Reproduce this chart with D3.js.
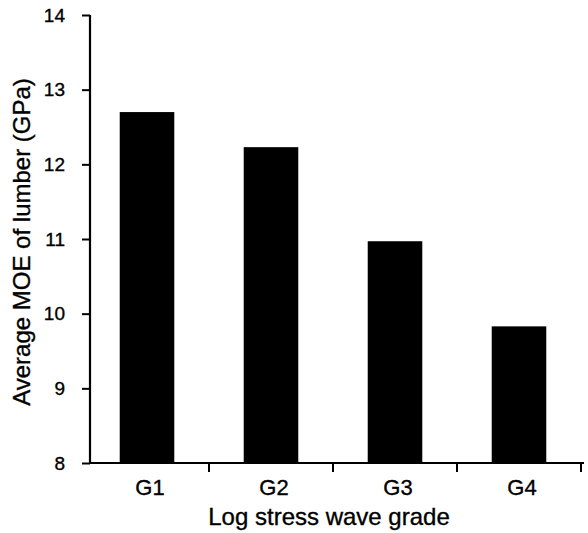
<!DOCTYPE html>
<html>
  <head>
    <title>Average MOE of lumber by log grade</title>
    <script src="https://cdn.jsdelivr.net/npm/d3@7"></script>
    <style>
      body { margin: 0; background: #fff; }
      text { font-family: "Liberation Sans", Arial, sans-serif; fill: #000; stroke: #000; stroke-width: 0.35px; }
    </style>
  </head>
  <body>
    <svg width="588" height="533" id="mainsvg"></svg>
    <script>
        // data
        const grades = ['G1', 'G2', 'G3', 'G4'];
        const moe = [12.70, 12.23, 10.97, 9.83];
        const yTicks = [8, 9, 10, 11, 12, 13, 14];

        const svg = d3.select('#mainsvg');
        const margin = {top: 15, right: 4, bottom: 70, left: 90};
        const width = +svg.attr('width');
        const height = +svg.attr('height');
        const innerWidth = width - margin.left - margin.right;
        const innerHeight = height - margin.top - margin.bottom;

        const g = svg.append('g')
            .attr('transform', `translate(${margin.left}, ${margin.top})`);

        const x = d3.scaleBand()
            .domain(grades)
            .range([-5, innerWidth - 3])
            .paddingInner(0.56)
            .paddingOuter(0.28);

        const y = d3.scaleLinear()
            .domain([8, 14])
            .range([innerHeight, 0]);

        // bars
        g.selectAll('.bar')
            .data(moe)
            .enter().append('rect')
            .attr('class', 'bar')
            .attr('x', (d, i) => x(grades[i]))
            .attr('y', d => y(d))
            .attr('width', x.bandwidth())
            .attr('height', d => y(8) - y(d))
            .attr('fill', '#000');

        // y axis
        const yAxis = g.append('g')
            .call(d3.axisLeft(y).tickValues(yTicks).tickFormat(d3.format('d')).tickSize(8).tickPadding(17));
        yAxis.select('.domain').attr('stroke-width', 2.2).attr('d', `M0,0V${innerHeight}`);
        yAxis.selectAll('.tick line').attr('stroke-width', 2);
        yAxis.selectAll('.tick text').style('font-size', '19px');

        // x axis: ticks sit between categories
        const bounds = grades.map(d => x(d) + x.bandwidth() + x.step() * x.paddingInner() / 2);
        const xg = g.append('g').attr('transform', `translate(0, ${innerHeight})`);
        xg.append('line')
            .attr('x1', 0).attr('x2', innerWidth)
            .attr('stroke', '#000').attr('stroke-width', 2.2);
        xg.selectAll('.xtick')
            .data(bounds)
            .enter().append('line')
            .attr('class', 'xtick')
            .attr('x1', d => d).attr('x2', d => d)
            .attr('y1', 0).attr('y2', 9)
            .attr('stroke', '#000').attr('stroke-width', 2);
        xg.selectAll('.xlabel')
            .data(grades)
            .enter().append('text')
            .attr('class', 'xlabel')
            .attr('x', d => x(d) + x.bandwidth() / 2 + 3)
            .attr('y', 32)
            .attr('text-anchor', 'middle')
            .style('font-size', '22px')
            .text(d => d);

        // axis titles
        svg.append('text')
            .attr('x', 329)
            .attr('y', 525)
            .attr('text-anchor', 'middle')
            .style('font-size', '24px')
            .text('Log stress wave grade');

        svg.append('text')
            .attr('transform', 'translate(30, 242) rotate(-90)')
            .attr('text-anchor', 'middle')
            .style('font-size', '24px')
            .text('Average MOE of lumber (GPa)');
    </script>
  </body>
</html>
